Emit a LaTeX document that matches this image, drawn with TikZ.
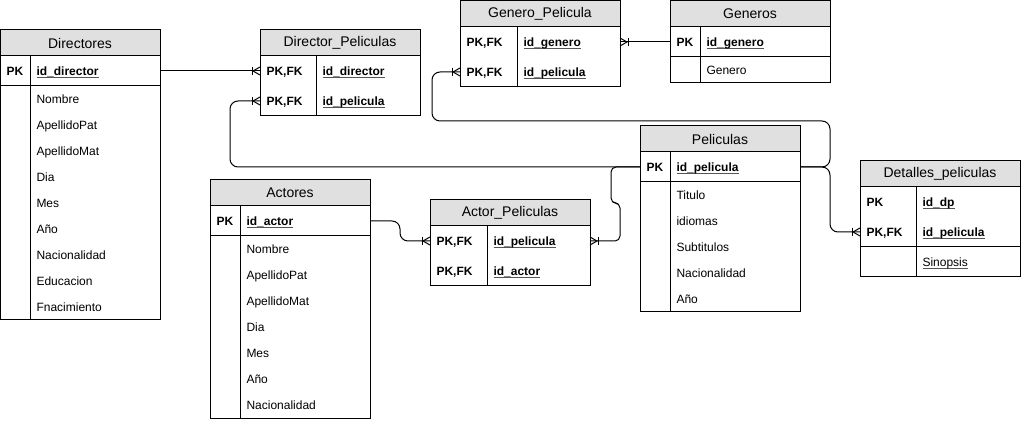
\documentclass[tikz,border=0pt]{standalone}
\usepackage{fontspec}
\setmainfont{Liberation Sans}
\usetikzlibrary{calc,decorations.markings}
\definecolor{hdrgray}{HTML}{E0E0E0}
\definecolor{ulgray}{HTML}{555555}
\newcommand{\keyul}[1]{\setbox0\hbox{#1}\rlap{\color{ulgray}\rule[-2.2pt]{\wd0}{0.7pt}}\box0}
\tikzset{
  hdr/.style={draw, fill=hdrgray, minimum width=160, minimum height=26, inner sep=0, outer sep=0, anchor=north west, font=\fontsize{14}{16}\selectfont},
  row/.style={minimum width=160, minimum height=30, inner sep=0, outer sep=0, anchor=north west},
  keytxt/.style={anchor=base west, inner sep=0, font=\fontsize{12}{14}\selectfont\bfseries},
  fld/.style={anchor=base west, inner sep=0, font=\fontsize{12}{14}\selectfont},
  rel/.style={rounded corners=8},
  many/.style={postaction=decorate, decoration={markings, mark=at position 1 with {
    \draw[sharp corners] (0,4) -- (-7,0) -- (0,-4);
    \draw[sharp corners] (-8,4) -- (-8,-4);}}}
}
\begin{document}
\begin{tikzpicture}[x=1pt,y=-1pt,line width=1pt]
  \useasboundingbox (0,0) rectangle (1021,422);
  % Directores
  \node[hdr] (dir) at (0,30) {Directores};
  \node[row,draw] (dir-pk) at (dir.south west) {};
  \node[row,draw,minimum height=234] (dir-body) at (dir-pk.south west) {};
  \draw ([xshift=30]dir-pk.north west) -- ([xshift=30]dir-body.south west);
  \node[keytxt] at ([xshift=6,yshift=-4.5]dir-pk.west) {PK};
  \node[keytxt] at ([xshift=36,yshift=-4.5]dir-pk.west) {\keyul{id\_director}};
  \foreach \f [count=\i] in {Nombre,ApellidoPat,ApellidoMat,Dia,Mes,Año,Nacionalidad,Educacion,Fnacimiento}
    \node[fld] at ($(dir-body.north west)+(36,{26*\i-8.5})$) {\f};

  % Director_Peliculas
  \node[hdr] (dp) at (260,30) {Director\_Peliculas};
  \node[row] (dp-r1) at (dp.south west) {};
  \node[row] (dp-r2) at (dp-r1.south west) {};
  \draw (dp-r1.north west) rectangle (dp-r2.south east);
  \draw ([xshift=56]dp-r1.north west) -- ([xshift=56]dp-r2.south west);
  \foreach \r/\k in {dp-r1/id\_director,dp-r2/id\_pelicula} {
    \node[keytxt] at ([xshift=6,yshift=-4.5]\r.west) {PK,FK};
    \node[keytxt] at ([xshift=62,yshift=-4.5]\r.west) {\keyul{\k}};
  }

  % Genero_Pelicula
  \node[hdr] (gp) at (460,1) {Genero\_Pelicula};
  \node[row] (gp-r1) at (gp.south west) {};
  \node[row] (gp-r2) at (gp-r1.south west) {};
  \draw (gp-r1.north west) rectangle (gp-r2.south east);
  \draw ([xshift=57]gp-r1.north west) -- ([xshift=57]gp-r2.south west);
  \foreach \r/\k in {gp-r1/id\_genero,gp-r2/id\_pelicula} {
    \node[keytxt] at ([xshift=6,yshift=-4.5]\r.west) {PK,FK};
    \node[keytxt] at ([xshift=63,yshift=-4.5]\r.west) {\keyul{\k}};
  }

  % Generos
  \node[hdr] (gen) at (670,1) {Generos};
  \node[row,draw] (gen-pk) at (gen.south west) {};
  \node[row,draw,minimum height=26] (gen-body) at (gen-pk.south west) {};
  \draw ([xshift=30]gen-pk.north west) -- ([xshift=30]gen-body.south west);
  \node[keytxt] at ([xshift=6,yshift=-4.5]gen-pk.west) {PK};
  \node[keytxt] at ([xshift=36,yshift=-4.5]gen-pk.west) {\keyul{id\_genero}};
  \node[fld] at ([xshift=36,yshift=-4.5]gen-body.west) {Genero};

  % Peliculas
  \node[hdr] (pel) at (640,126) {Peliculas};
  \node[row,draw] (pel-pk) at (pel.south west) {};
  \node[row,draw,minimum height=130] (pel-body) at (pel-pk.south west) {};
  \draw ([xshift=30]pel-pk.north west) -- ([xshift=30]pel-body.south west);
  \node[keytxt] at ([xshift=6,yshift=-4.5]pel-pk.west) {PK};
  \node[keytxt] at ([xshift=36,yshift=-4.5]pel-pk.west) {\keyul{id\_pelicula}};
  \foreach \f [count=\i] in {Titulo,idiomas,Subtitulos,Nacionalidad,Año}
    \node[fld] at ($(pel-body.north west)+(36,{26*\i-8.5})$) {\f};

  % Actores
  \node[hdr] (act) at (210,180) {Actores};
  \node[row,draw] (act-pk) at (act.south west) {};
  \node[row,draw,minimum height=182] (act-body) at (act-pk.south west) {};
  \draw ([xshift=30]act-pk.north west) -- ([xshift=30]act-body.south west);
  \node[keytxt] at ([xshift=6,yshift=-4.5]act-pk.west) {PK};
  \node[keytxt] at ([xshift=36,yshift=-4.5]act-pk.west) {\keyul{id\_actor}};
  \foreach \f [count=\i] in {Nombre,ApellidoPat,ApellidoMat,Dia,Mes,Año,Nacionalidad}
    \node[fld] at ($(act-body.north west)+(36,{26*\i-8.5})$) {\f};

  % Actor_Peliculas
  \node[hdr] (ap) at (430,200) {Actor\_Peliculas};
  \node[row] (ap-r1) at (ap.south west) {};
  \node[row] (ap-r2) at (ap-r1.south west) {};
  \draw (ap-r1.north west) rectangle (ap-r2.south east);
  \draw ([xshift=57]ap-r1.north west) -- ([xshift=57]ap-r2.south west);
  \foreach \r/\k in {ap-r1/id\_pelicula,ap-r2/id\_actor} {
    \node[keytxt] at ([xshift=6,yshift=-4.5]\r.west) {PK,FK};
    \node[keytxt] at ([xshift=63,yshift=-4.5]\r.west) {\keyul{\k}};
  }

  % Detalles_peliculas
  \node[hdr] (det) at (860,161) {Detalles\_peliculas};
  \node[row] (det-r1) at (det.south west) {};
  \node[row] (det-r2) at (det-r1.south west) {};
  \node[row,draw] (det-body) at (det-r2.south west) {};
  \draw (det-r1.north west) rectangle (det-r2.south east);
  \draw ([xshift=56]det-r1.north west) -- ([xshift=56]det-body.south west);
  \node[keytxt] at ([xshift=6,yshift=-4.5]det-r1.west) {PK};
  \node[keytxt] at ([xshift=62,yshift=-4.5]det-r1.west) {\keyul{id\_dp}};
  \node[keytxt] at ([xshift=6,yshift=-4.5]det-r2.west) {PK,FK};
  \node[keytxt] at ([xshift=62,yshift=-4.5]det-r2.west) {\keyul{id\_pelicula}};
  \node[fld] at ([xshift=62,yshift=-4.5]det-body.west) {\keyul{Sinopsis}};

  % Relations
  \coordinate (gbend) at ([xshift=30,yshift=46]pel-pk.east);
  \draw[rel,many] (dir-pk.east) -- (dp-r1.west);
  \draw[rel,many] (pel-pk.west) -| ([xshift=-30]dp-r2.west) -- (dp-r2.west);
  \draw[rel,many] (pel-pk.east) -| (gbend) -| ([xshift=-28]gp-r2.west) -- (gp-r2.west);
  \draw[rel,many] (gen-pk.west) -- (gp-r1.east);
  \draw[rel,many] (pel-pk.east) -| ([xshift=-30]det-r2.west) -- (det-r2.west);
  \draw[rel,many,rounded corners=5] (pel-pk.west) -| ([xshift=21,yshift=38]ap-r1.east) -| ([xshift=30]ap-r1.east) -- (ap-r1.east);
  \draw[rel,many] (act-pk.east) -| ([xshift=-30]ap-r1.west) -- (ap-r1.west);
\end{tikzpicture}
\end{document}
